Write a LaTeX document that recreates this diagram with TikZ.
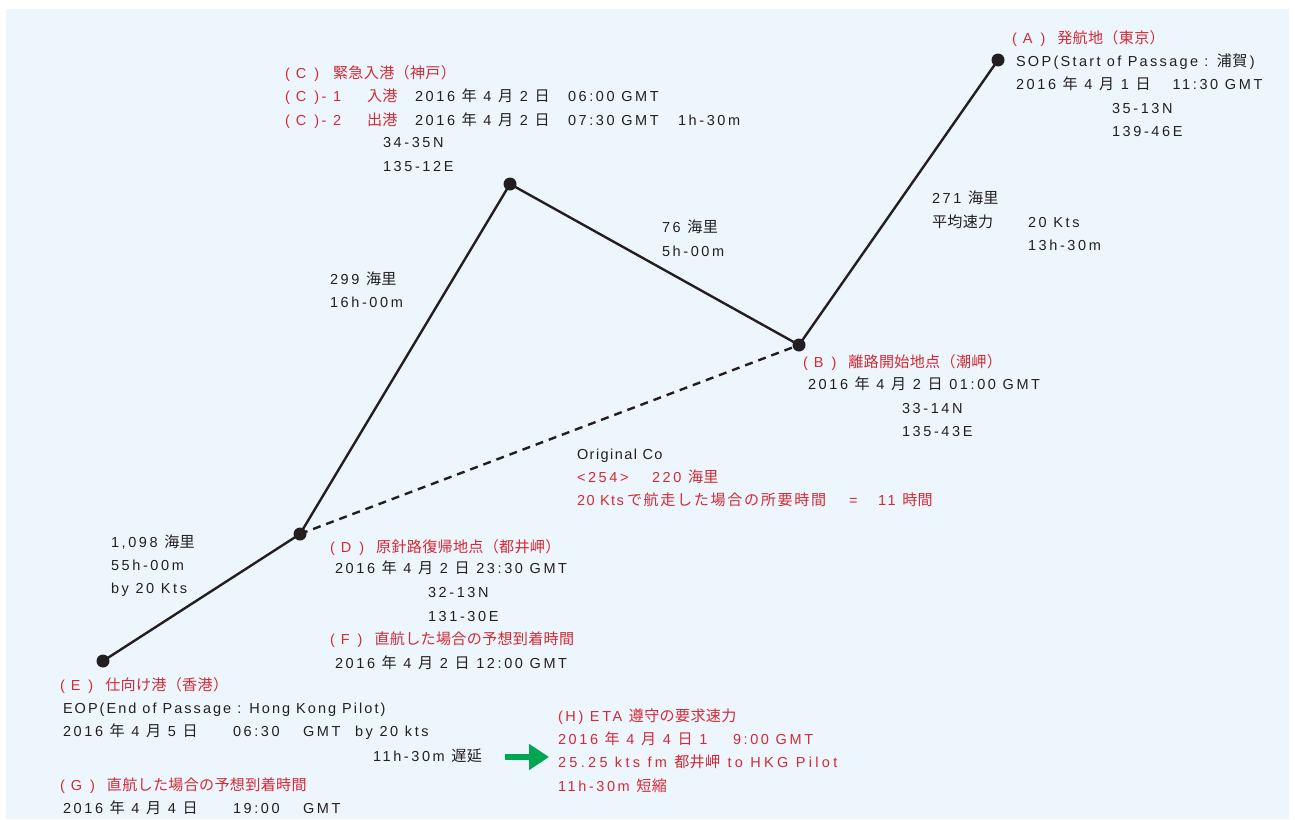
\documentclass[tikz,border=0pt]{standalone}
\usepackage{fontspec}
\setmainfont{Liberation Sans}[LetterSpace=18]
\newfontfamily\jpf{Noto Sans CJK JP}[Scale=1.04, LetterSpace=2]
\newfontfamily\jpwide{Noto Sans CJK JP}[Scale=1.04, LetterSpace=11]
\newfontfamily\latnarrow{Liberation Sans}[LetterSpace=10]
\newfontfamily\latmid{Liberation Sans}[LetterSpace=14]
\newfontfamily\latsop{Liberation Sans}[LetterSpace=16]
\newfontfamily\latwide{Liberation Sans}[LetterSpace=23]
\newcommand\J[1]{{\jpf #1}}
\newcommand\ymd[3]{#1 \J{年} #2 \J{月} #3 \J{日}}
\newcommand\lbl[1]{(\hspace{6pt}#1\hspace{8pt})}
\usetikzlibrary{arrows.meta}
\definecolor{ink}{HTML}{231F20}
\definecolor{jred}{HTML}{D42A35}
\definecolor{bgblue}{HTML}{EEF6FD}
\definecolor{arrowgreen}{HTML}{00A650}
\tikzset{
  txt/.style={anchor=base west, inner sep=0pt, outer sep=0pt, text=ink, font=\fontsize{14.5}{16}\selectfont},
  rtxt/.style={txt, text=jred},
  dot/.style={circle, fill=ink, inner sep=0pt, minimum size=13pt},
  leg/.style={line width=2.4pt, draw=ink},
  orig/.style={leg, dash pattern=on 8pt off 6pt},
}
\begin{document}
\begin{tikzpicture}[x=1pt,y=-1pt]
\useasboundingbox (0,0) rectangle (1295,819);
\fill[bgblue] (6,9) rectangle (1289,819);

% points
\node[dot] (A) at (998,60) {};
\node[dot] (C) at (510,184) {};
\node[dot] (B) at (799,345) {};
\node[dot] (D) at (300,534) {};
\node[dot] (E) at (103,661) {};

\draw[leg] (E.center) -- (D.center);
\draw[leg] (D.center) -- (C.center);
\draw[leg] (C.center) -- (B.center);
\draw[leg] (B.center) -- (A.center);
\draw[orig] (D.center) -- (B.center);

% A block
\node[rtxt] (a1) at (1012,43) {\lbl{A}\hspace{12pt}\J{発航地（東京）}};
\node[txt]  (a2) at (1016,66) {\latsop SOP(Start of Passage : \J{浦賀}\,)};
\node[txt]  (a3) at (1016,89) {\ymd{2016}{4}{1}\hspace{22pt}11:30 GMT};
\node[txt]  (a4) at (1112,113) {35-13N};
\node[txt]  (a5) at (1112,136) {139-46E};

% C block
\node[rtxt] (c1) at (285,78) {\lbl{C}\hspace{14pt}\J{緊急入港（神戸）}};
\node[rtxt] (c2a) at (285,101) {\lbl{C}- 1};
\node[rtxt] (c2b) at (367,101) {\J{入港}};
\node[txt]  (c2c) at (415,101) {\ymd{2016}{4}{2}};
\node[txt]  (c2d) at (568,101) {06:00 GMT};
\node[rtxt] (c3a) at (285,125) {\lbl{C}- 2};
\node[rtxt] (c3b) at (367,125) {\J{出港}};
\node[txt]  (c3c) at (415,125) {\ymd{2016}{4}{2}};
\node[txt]  (c3d) at (568,125) {07:30 GMT};
\node[txt]  (c3e) at (678,125) {1h-30m};
\node[txt]  (c4) at (383,147) {34-35N};
\node[txt]  (c5) at (383,171) {135-12E};

% leg labels
\node[txt] (l1) at (330,284) {299 \J{海里}};
\node[txt] (l2) at (330,307) {16h-00m};
\node[txt] (l3) at (662,232) {76 \J{海里}};
\node[txt] (l4) at (662,256) {5h-00m};
\node[txt] (l5) at (932,203) {271 \J{海里}};
\node[txt] (l6) at (932,227) {\J{平均速力}};
\node[txt] (l7) at (1028,227) {20 Kts};
\node[txt] (l8) at (1028,250) {13h-30m};

% B block
\node[rtxt] (b1) at (803,367) {\lbl{B}\hspace{12pt}\J{離路開始地点（潮岬）}};
\node[txt]  (b2) at (808,389) {\ymd{2016}{4}{2} 01:00 GMT};
\node[txt]  (b3) at (902,413) {33-14N};
\node[txt]  (b4) at (902,436) {135-43E};

% original course
\node[txt]  (o1) at (577,459) {\latnarrow Original Co};
\node[rtxt] (o2a) at (577,482) {<254>};
\node[rtxt] (o2b) at (652,482) {220 \J{海里}};
\node[rtxt] (o3a) at (577,505) {\latnarrow 20 Kts};
\node[rtxt] (o3b) at (627,505) {\jpwide で航走した場合の所要時間};
\node[rtxt] (o3c) at (849,505) {=};
\node[rtxt] (o3d) at (878,505) {11 \J{時間}};

% E-D leg
\node[txt] (m1) at (111,547) {1,098 \J{海里}};
\node[txt] (m2) at (111,570) {55h-00m};
\node[txt] (m3) at (111,593) {by 20 Kts};

% D block
\node[rtxt] (d1) at (330,552) {\lbl{D}\hspace{12pt}\J{原針路復帰地点（都井岬）}};
\node[txt]  (d2) at (335,573) {\ymd{2016}{4}{2} 23:30 GMT};
\node[txt]  (d3) at (428,597) {32-13N};
\node[txt]  (d4) at (428,621) {131-30E};
\node[rtxt] (f1) at (330,644) {\lbl{F}\hspace{12pt}\J{直航した場合の予想到着時間}};
\node[txt]  (f2) at (335,668) {\ymd{2016}{4}{2} 12:00 GMT};

% E block
\node[rtxt] (e1) at (60,690) {\lbl{E}\hspace{12pt}\J{仕向け港（香港）}};
\node[txt]  (e2) at (63,713) {\latmid EOP(End of Passage : Hong Kong Pilot)};
\node[txt]  (e3a) at (63,736) {\ymd{2016}{4}{5}};
\node[txt]  (e3b) at (233,736) {06:30};
\node[txt]  (e3c) at (303,736) {GMT};
\node[txt]  (e3d) at (355,736) {by 20 kts};
\node[txt]  (e4) at (373,761) {11h-30m \J{遅延}};
\node[rtxt] (g1) at (60,790) {\lbl{G}\hspace{12pt}\J{直航した場合の予想到着時間}};
\node[txt]  (g2a) at (63,813) {\ymd{2016}{4}{4}};
\node[txt]  (g2b) at (233,813) {19:00};
\node[txt]  (g2c) at (303,813) {GMT};

% green arrow
\coordinate (ga) at (505,757);
\coordinate (gb) at (549,757);
\draw[arrowgreen, line width=6pt, -{Triangle[length=20pt, width=25pt]}] (ga) -- (gb);

% H block
\node[rtxt] (h1) at (558,721) {(H) ETA \J{遵守の要求速力}};
\node[rtxt] (h2a) at (558,744) {\ymd{2016}{4}{4} 1};
\node[rtxt] (h2b) at (733,744) {9:00 GMT};
\node[rtxt] (h3) at (558,767) {\latwide 25.25 kts fm \J{都井岬} to HKG Pilot};
\node[rtxt] (h4) at (558,791) {11h-30m \J{短縮}};
\end{tikzpicture}
\end{document}
